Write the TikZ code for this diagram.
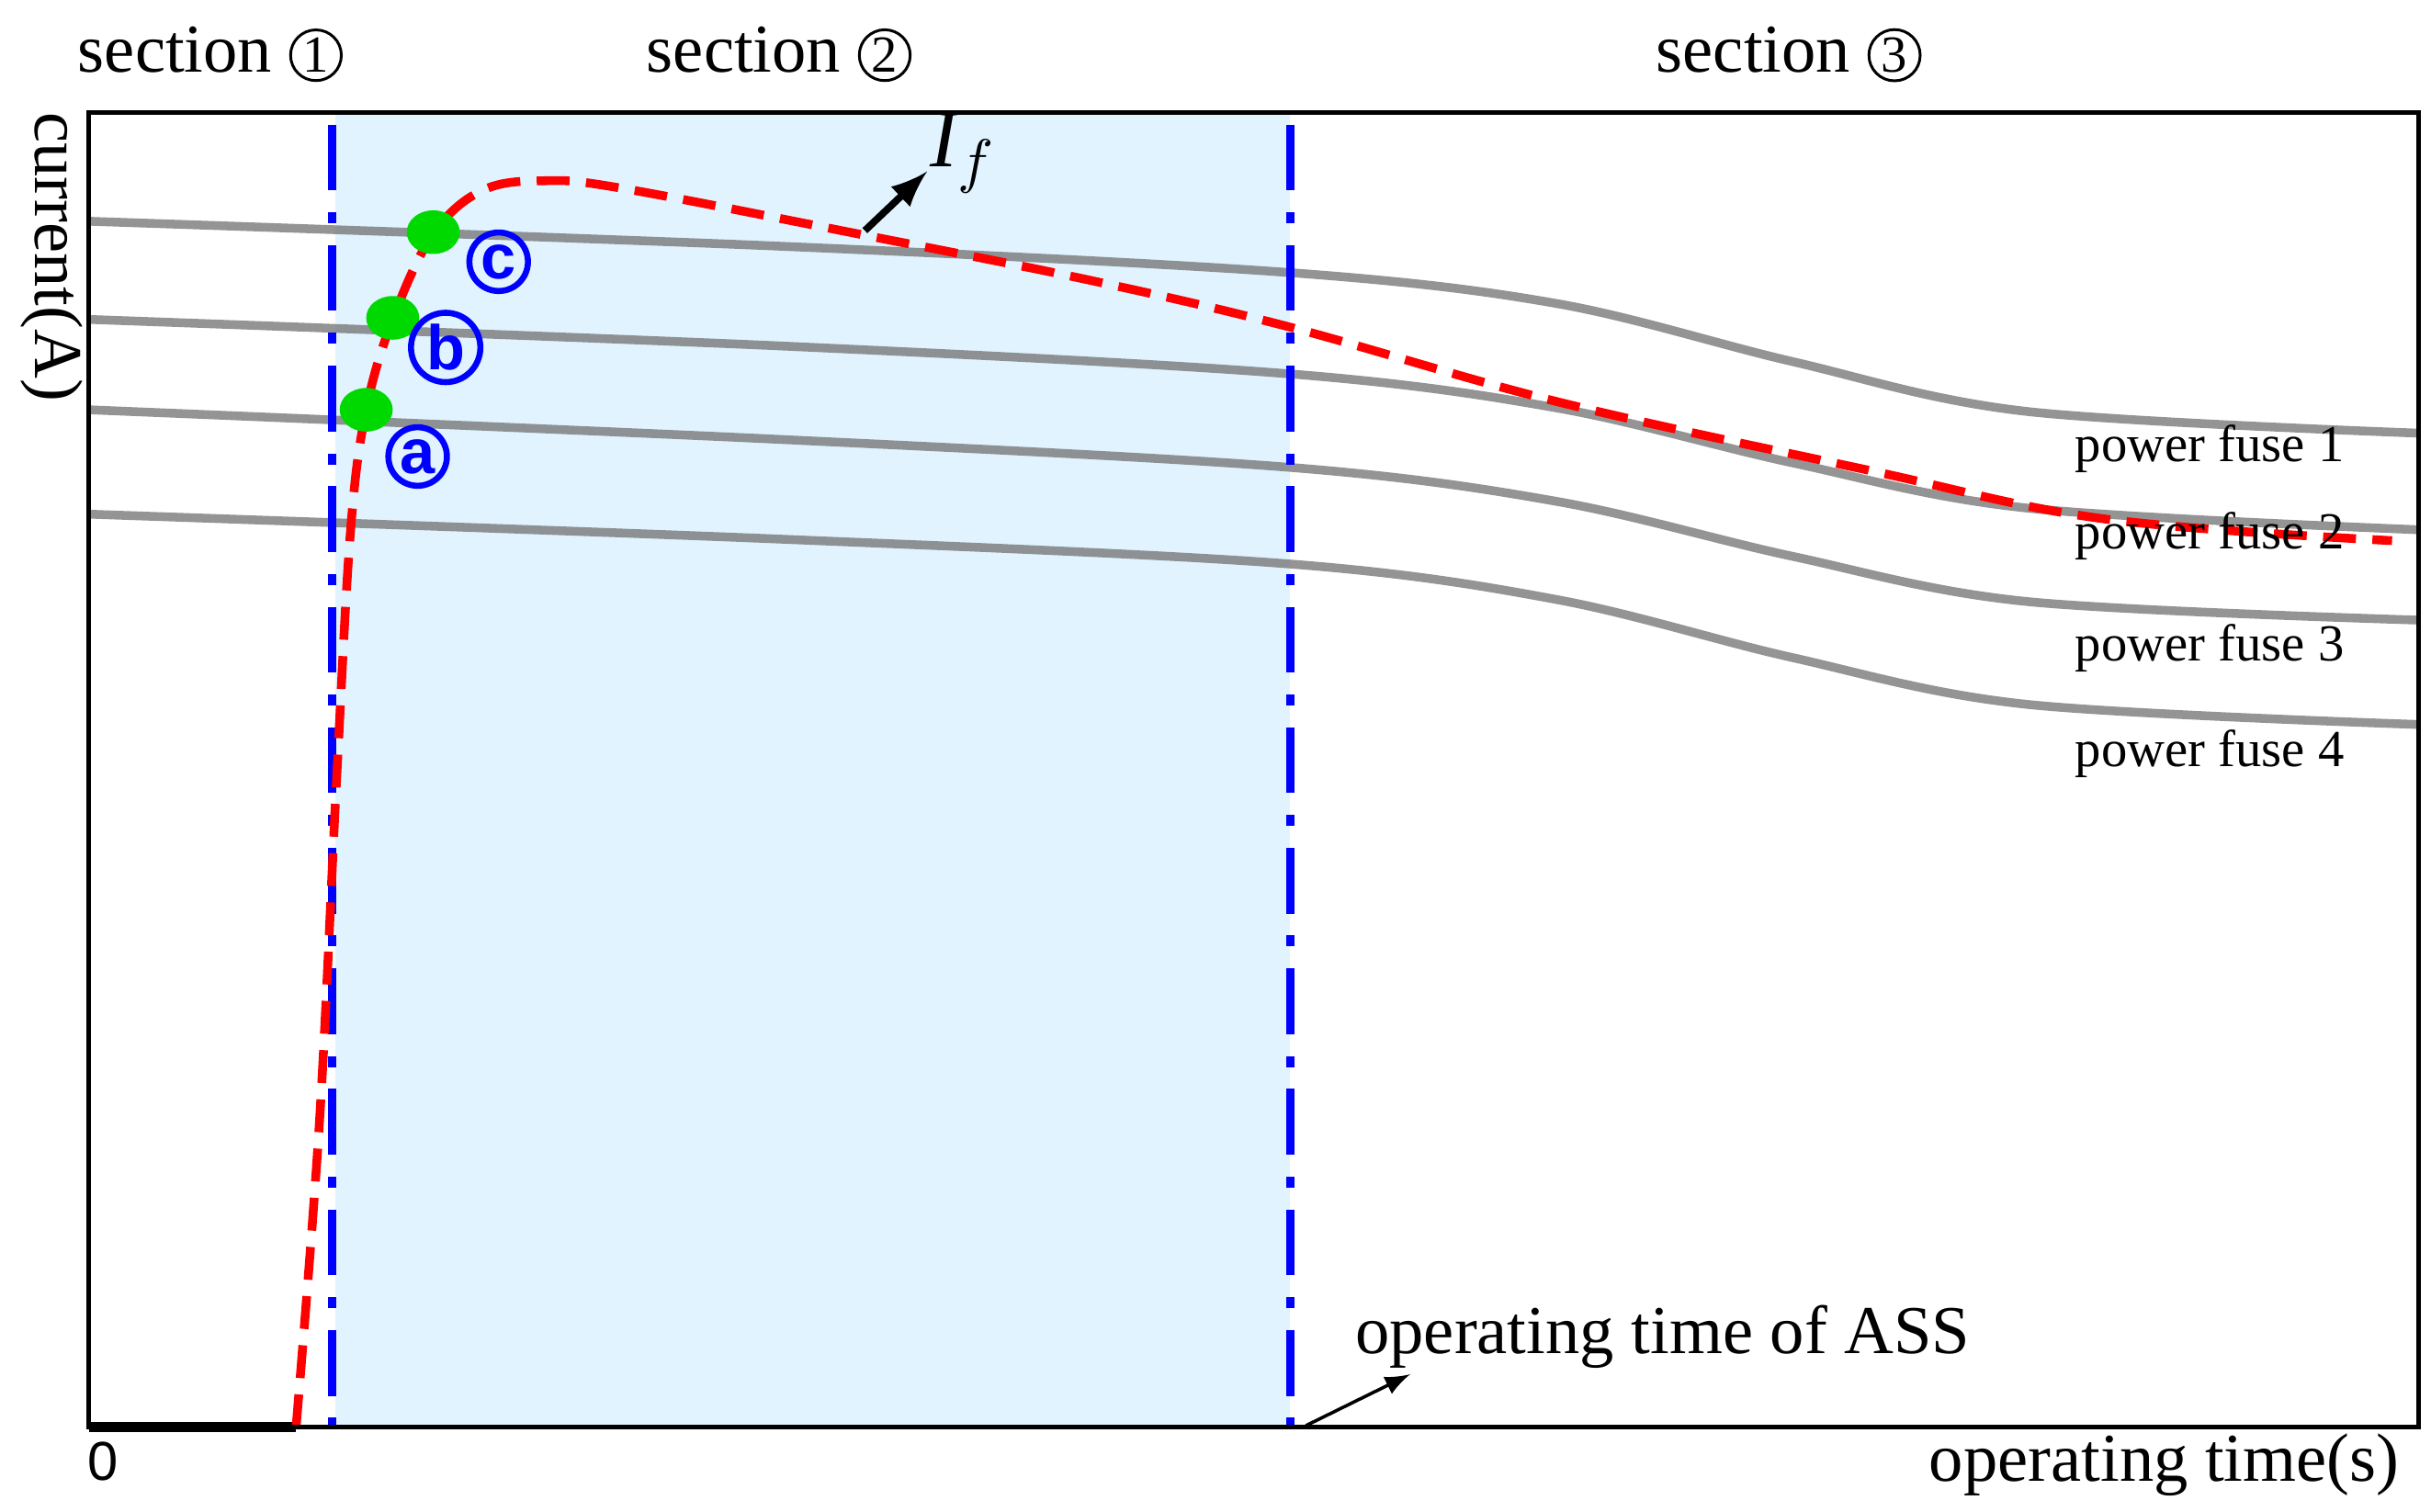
\documentclass[tikz,border=0pt]{standalone}
\usepackage{fontspec}
\usetikzlibrary{shapes.geometric}
\setmainfont{Liberation Serif}
\newfontfamily\sansf{Liberation Sans}
\newcommand{\circnum}[1]{\tikz[baseline=(n.base)]\node[draw,circle,inner sep=0.5pt,line width=0.5pt](n){\fontsize{9.5}{10}\selectfont #1};}
\begin{document}
\begin{tikzpicture}[x=0.01cm,y=-0.01cm,
  fuse/.style={gray!95!black,line width=1.6pt,opacity=0.8},
  vdash/.style={blue,line width=1.6pt,dash pattern=on 12pt off 4pt on 2pt off 4pt},
  dot/.style={fill=green!85!black,draw=none,ellipse,minimum width=0.34cm,minimum height=0.28cm,inner sep=0},
  lab/.style={blue,circle,draw,line width=1.1pt,inner sep=0.6pt,font=\sansf\bfseries\fontsize{11.5}{12}\selectfont},
  sec/.style={font=\fontsize{12.5}{14}\selectfont},
  fl/.style={font=\fontsize{9.5}{11}\selectfont}]
\useasboundingbox (0,0) rectangle (1560,970);
\fill[blue!40!cyan!12] (215,72) rectangle (828,916);
\draw[fuse] plot[smooth,tension=0.55] coordinates {(57,142) (500,158) (828,175) (1000,195) (1150,232) (1300,264) (1552,278)};
\draw[fuse] plot[smooth,tension=0.55] coordinates {(57,205) (500,222) (828,240) (1000,262) (1150,297) (1300,326) (1552,340)};
\draw[fuse] plot[smooth,tension=0.55] coordinates {(57,263) (500,282) (828,300) (1000,322) (1150,357) (1300,386) (1552,398)};
\draw[fuse] plot[smooth,tension=0.55] coordinates {(57,330) (500,346) (828,362) (1000,385) (1150,422) (1300,452) (1552,465)};
\draw[vdash] (213,80) -- (213,916);
\draw[vdash] (828,80) -- (828,916);
\draw[black,line width=1.8pt] (57,916) -- (190,916);
\draw[red,line width=1.6pt,dash pattern=on 6pt off 3pt] plot[smooth,tension=0.6] coordinates {(190,916) (205,720) (216,500) (225,340) (235,263) (252,205) (278,150) (310,122) (350,116) (400,121) (550,150) (700,180) (828,210) (1000,258) (1200,302) (1350,333) (1535,347)};
\draw[black,line width=0.8pt] (57,72) rectangle (1552,916);
\node[dot] (da) at (235,263) {};
\node[dot] (db) at (252,204) {};
\node[dot] (dc) at (278,149) {};
\node[lab] (la) at (268,293) {a};
\node[lab] (lb) at (286,223) {b};
\node[lab] (lc) at (320,168) {c};
\coordinate (ifs) at (555,148);
\node[font=\fontsize{15}{18}\selectfont\itshape] (if) at (618,98) {I$_f$};
\draw[-latex,line width=1.3pt] (ifs) -- (595,110);
\node[fl] (f1) at (1418,288) {power fuse 1};
\node[fl] (f2) at (1418,344) {power fuse 2};
\node[fl] (f3) at (1418,416) {power fuse 3};
\node[fl] (f4) at (1418,484) {power fuse 4};
\node[sec] (s1) at (135,35) {section \circnum{1}};
\node[sec] (s2) at (500,35) {section \circnum{2}};
\node[sec] (s3) at (1148,35) {section \circnum{3}};
\node[sec] (ass) at (1067,858) {operating time of ASS};
\coordinate (assp) at (838,915);
\draw[-latex,line width=0.6pt] (assp) -- (905,882);
\node[font=\sansf\fontsize{10}{12}\selectfont] (zero) at (66,938) {0};
\node[sec,anchor=east] (xl) at (1552,940) {operating time(s)};
\node[sec,rotate=-90] (yl) at (33,165) {current(A)};
\end{tikzpicture}
\end{document}
